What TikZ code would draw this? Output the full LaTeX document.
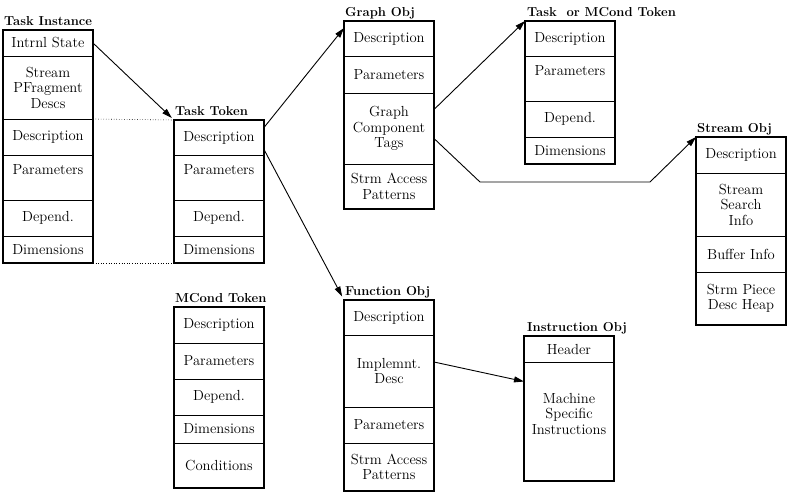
\documentclass[tikz,border=0pt]{standalone}
\usetikzlibrary{positioning,arrows.meta}
\tikzset{
  cell/.style={draw, line width=0.8pt, minimum width=90pt, inner sep=0pt, outer sep=0pt, align=center, font=\fontsize{14.6}{15.5}\selectfont},
  frame/.style={line width=2pt},
  objtitle/.style={anchor=base west, inner sep=0pt, font=\fontsize{13}{14}\selectfont\bfseries},
  link/.style={line width=0.9pt, -{Triangle[length=10pt,width=6pt]}},
  dotlink/.style={dotted, line width=0.6pt}
}
\begin{document}
\begin{tikzpicture}[x=1pt,y=-1pt]
\useasboundingbox (0,0) rectangle (789,493);
% Task Instance
\node[cell, minimum height=26pt, anchor=north west] (ti1) at (3,30) {Intrnl State};
\node[cell, minimum height=63pt, below=0pt of ti1] (ti2) {Stream\\PFragment\\Descs};
\node[cell, minimum height=36pt, below=0pt of ti2] (ti3) {Description};
\node[cell, minimum height=45pt, below=0pt of ti3] (ti4) {Parameters\\\mbox{}};
\node[cell, minimum height=36pt, below=0pt of ti4] (ti5) {Depend.};
\node[cell, minimum height=27pt, below=0pt of ti5] (ti6) {Dimensions};
\node[objtitle] (tiname) at ([xshift=1pt,yshift=5pt]ti1.north west) {Task Instance};
% Task Token
\node[cell, minimum height=35pt, anchor=north west] (tt1) at (174,120) {Description};
\node[cell, minimum height=45pt, below=0pt of tt1] (tt2) {Parameters\\\mbox{}};
\node[cell, minimum height=36pt, below=0pt of tt2] (tt3) {Depend.};
\node[cell, minimum height=27pt, below=0pt of tt3] (tt4) {Dimensions};
\node[objtitle] (ttname) at ([xshift=1pt,yshift=5pt]tt1.north west) {Task Token};
% Graph Obj
\node[cell, minimum height=35pt, anchor=north west] (gr1) at (344,21) {Description};
\node[cell, minimum height=37pt, below=0pt of gr1] (gr2) {Parameters};
\node[cell, minimum height=71pt, below=0pt of gr2] (gr3) {Graph\\Component\\Tags};
\node[cell, minimum height=45pt, below=0pt of gr3] (gr4) {Strm Access\\Patterns};
\node[objtitle] (grname) at ([xshift=1pt,yshift=5pt]gr1.north west) {Graph Obj};
% Task or MCond Token
\node[cell, minimum height=35pt, anchor=north west] (tm1) at (525,21) {Description};
\node[cell, minimum height=45pt, below=0pt of tm1] (tm2) {Parameters\\\mbox{}};
\node[cell, minimum height=36pt, below=0pt of tm2] (tm3) {Depend.};
\node[cell, minimum height=27pt, below=0pt of tm3] (tm4) {Dimensions};
\node[objtitle] (tmname) at ([xshift=2pt,yshift=5pt]tm1.north west) {Task~ or MCond Token};
% Stream Obj
\node[cell, minimum height=36pt, anchor=north west] (so1) at (696,137) {Description};
\node[cell, minimum height=63pt, below=0pt of so1] (so2) {Stream\\Search\\Info};
\node[cell, minimum height=36pt, below=0pt of so2] (so3) {Buffer Info};
\node[cell, minimum height=53pt, below=0pt of so3] (so4) {Strm Piece\\Desc Heap};
\node[objtitle] (soname) at ([xshift=1pt,yshift=5pt]so1.north west) {Stream Obj};
% MCond Token
\node[cell, minimum height=36pt, anchor=north west] (mc1) at (174,307) {Description};
\node[cell, minimum height=36pt, below=0pt of mc1] (mc2) {Parameters};
\node[cell, minimum height=36pt, below=0pt of mc2] (mc3) {Depend.};
\node[cell, minimum height=28pt, below=0pt of mc3] (mc4) {Dimensions};
\node[cell, minimum height=45pt, below=0pt of mc4] (mc5) {Conditions};
\node[objtitle] (mcname) at ([xshift=1pt,yshift=5pt]mc1.north west) {MCond Token};
% Function Obj
\node[cell, minimum height=35pt, anchor=north west] (fn1) at (344,300) {Description};
\node[cell, minimum height=72pt, below=0pt of fn1] (fn2) {Implemnt.\\Desc};
\node[cell, minimum height=36pt, below=0pt of fn2] (fn3) {Parameters};
\node[cell, minimum height=48pt, below=0pt of fn3] (fn4) {Strm Access\\Patterns};
\node[objtitle] (fnname) at ([xshift=1pt,yshift=5pt]fn1.north west) {Function Obj};
% Instruction Obj
\node[cell, minimum height=26pt, anchor=north west] (in1) at (524,336) {Header};
\node[cell, minimum height=119pt, below=0pt of in1] (in2) {Machine\\Specific\\Instructions\\\mbox{}};
\node[objtitle] (inname) at ([xshift=3pt,yshift=5pt]in1.north west) {Instruction Obj};
%
\foreach \a/\b in {ti1/ti6, tt1/tt4, gr1/gr4, tm1/tm4, so1/so4, mc1/mc5, fn1/fn4, in1/in2}
  \draw[frame] (\a.north west) rectangle (\b.south east);
%
\draw[dotlink] (ti3.north east) -- (tt1.north west);
\draw[dotlink] (ti6.south east) -- (tt4.south west);
\draw[link, shorten >=3pt] (ti1.east) -- (tt1.north west);
\draw[link] ([yshift=10pt]tt1.east) -- ([yshift=-7pt]gr1.north west);
\draw[link, shorten >=4pt] ([yshift=-12pt]tt1.east) -- (fn1.north west);
\draw[link] ([yshift=19pt]gr3.east) -- (tm1.north west);
\coordinate (bendA) at (480,182);
\coordinate (bendB) at (650,182);
\draw[link] ([yshift=-10pt]gr3.east) -- (bendA) -- (bendB) -- (so1.north west);
\draw[link] ([yshift=9pt]fn2.east) -- ([yshift=40pt]in2.west);
\end{tikzpicture}
\end{document}
